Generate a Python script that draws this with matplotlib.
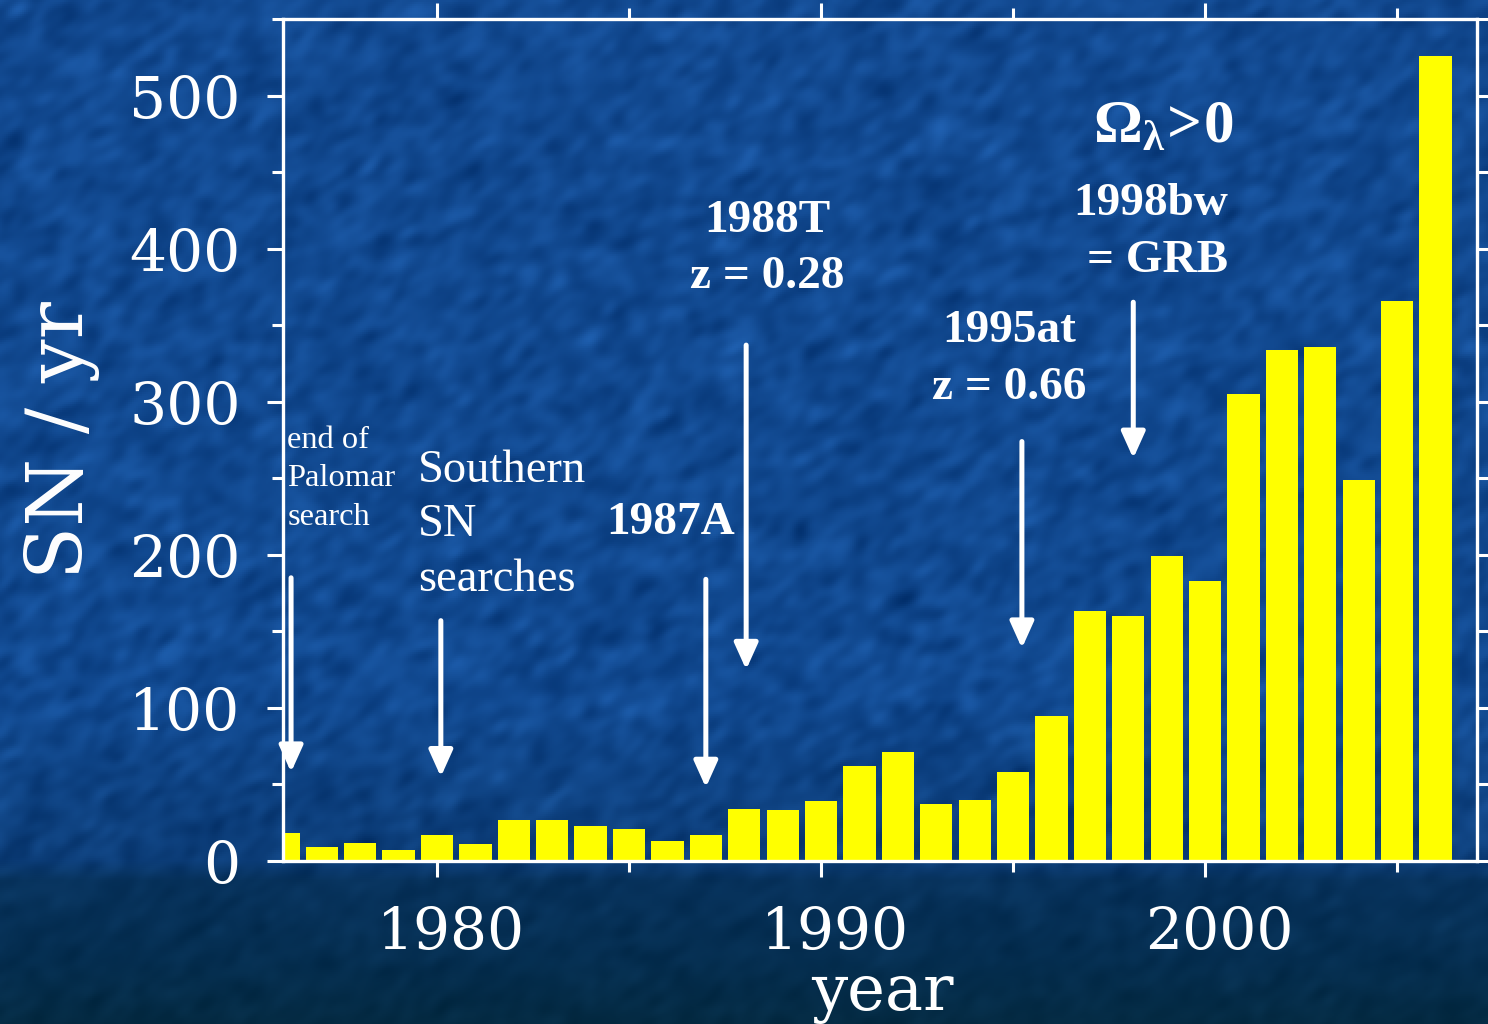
import matplotlib
matplotlib.use("Agg")
import matplotlib.pyplot as plt
import matplotlib.transforms as mtransforms
import numpy as np

# supernovae discovered per year
years = list(range(1976, 2007))
sn_per_year = [18, 9, 12, 7, 17, 11, 27, 27, 23, 21, 13, 17, 34, 33, 39,
               62, 71, 37, 40, 58, 95, 163, 160, 199, 183, 305, 334, 336,
               249, 366, 526]

# arrows: x position, tail height, tip height
arrow_x = [1976.2, 1980.1, 1987.0, 1988.05, 1995.23, 1998.13]
arrow_tail = [185, 157, 184, 337, 274, 365]
arrow_tip = [58, 55, 48, 125, 139, 263]

plt.rcParams['mathtext.fontset'] = 'custom'
plt.rcParams['mathtext.rm'] = 'Liberation Serif:bold'
plt.rcParams['mathtext.bf'] = 'Liberation Serif:bold'
plt.rcParams['mathtext.it'] = 'Liberation Serif:bold'

W, H = 1488, 1024
fig = plt.figure(figsize=(W / 100, H / 100), dpi=100)

# mottled blue backdrop
rng = np.random.default_rng(3)
h, w = H // 2, W // 2
noise = rng.normal(size=(h, w))
fy = np.fft.fftfreq(h)[:, None]
fx = np.fft.fftfreq(w)[None, :]
ang = np.deg2rad(35)
u = fx * np.cos(ang) - fy * np.sin(ang)
v = fx * np.sin(ang) + fy * np.cos(ang)
filt = np.exp(-(u / 0.06) ** 2 - (v / 0.10) ** 2)
tex = np.real(np.fft.ifft2(np.fft.fft2(noise) * filt))
tex = tex / tex.std()
tex = np.kron(tex, np.ones((2, 2)))[:H, :W]

rows = np.arange(H)
stops = [0, 700, 860, 880, 960, 1024]
r = np.interp(rows, stops, [18, 17, 12, 7, 5, 4])
g = np.interp(rows, stops, [73, 73, 61, 50, 46, 42])
b = np.interp(rows, stops, [144, 144, 120, 92, 80, 66])
amp = np.interp(rows, stops, [5.5, 5.5, 4.5, 2.5, 2, 2])
img = np.zeros((H, W, 3))
for i, c in enumerate([r, g, b]):
    img[:, :, i] = c[:, None] + amp[:, None] * tex * (0.6 + 0.4 * i)
img = np.clip(img, 0, 255) / 255

bg = fig.add_axes([0, 0, 1, 1])
bg.imshow(img, aspect='auto', interpolation='bilinear')
bg.axis('off')

ax = fig.add_axes([283 / W, (H - 861) / H, (1477 - 283) / W, (861 - 19) / H])
ax.patch.set_alpha(0)

ax.bar(years, sn_per_year, width=0.84, color='#ffff00', linewidth=0, zorder=2)

ax.set_xlim(1975.99, 2007.08)
ax.set_ylim(0, 550)

ax.set_xticks([1980, 1990, 2000])
ax.set_xticks([1985, 1995, 2005], minor=True)
ax.set_yticks([0, 100, 200, 300, 400, 500])
ax.set_yticks([50, 150, 250, 350, 450, 550], minor=True)

for s in ax.spines.values():
    s.set_color('white')
    s.set_linewidth(2.4)

ax.tick_params(which='both', direction='out', color='white', width=2.2,
               top=True, right=True, labelcolor='white')
ax.tick_params(which='major', length=11.5)
ax.tick_params(which='minor', length=8)
ax.tick_params(axis='y', pad=19)
ax.tick_params(axis='x', pad=20)
shift = mtransforms.ScaledTranslation(14 / 100, 0, fig.dpi_scale_trans)
for lab in ax.get_xticklabels():
    lab.set_transform(lab.get_transform() + shift)
for lab in ax.get_xticklabels() + ax.get_yticklabels():
    lab.set_fontfamily('DejaVu Serif')
    lab.set_fontsize(42)

fig.text(62 / W, 1 - 440 / H, 'SN / yr', rotation=90, color='white',
         family='DejaVu Serif', fontsize=56, ha='center', va='center')
fig.text(882 / W, 1 - 1010 / H, 'year', color='white', family='DejaVu Serif',
         fontsize=46, ha='center', va='baseline')

for x, y0, y1 in zip(arrow_x, arrow_tail, arrow_tip):
    ax.annotate('', xy=(x, y1), xytext=(x, y0),
                arrowprops=dict(arrowstyle='-|>,head_length=0.8,head_width=0.36',
                                color='white', lw=3.6, mutation_scale=20,
                                shrinkA=0, shrinkB=0), zorder=3)

serif = 'Liberation Serif'
ax.text(1976.1, 284, 'end of\nPalomar\nsearch', color='white', family=serif,
        fontsize=23.4, ha='left', va='top', linespacing=1.42)
ax.text(1979.5, 269, 'Southern\nSN\nsearches', color='white', family=serif,
        fontsize=33.5, ha='left', va='top', linespacing=1.37)
ax.text(1987.76, 221, '1987A', color='white', family=serif, weight='bold',
        fontsize=34, ha='right', va='center')
ax.text(1988.6, 432, '1988T\nz = 0.28', color='white', family=serif,
        weight='bold', fontsize=34, ha='center', va='top', linespacing=1.46)
ax.text(1994.9, 360, '1995at\nz = 0.66', color='white', family=serif,
        weight='bold', fontsize=34, ha='center', va='top', linespacing=1.46)
ax.text(2000.6, 443, '1998bw\n= GRB', color='white', family=serif,
        weight='bold', fontsize=34, ha='right', va='top', linespacing=1.46)
ax.text(1998.9, 480, r'$\Omega_{\lambda}\!>\!0$', color='white',
        fontsize=44, ha='center', va='center')

fig.savefig('out.png', dpi=100)
